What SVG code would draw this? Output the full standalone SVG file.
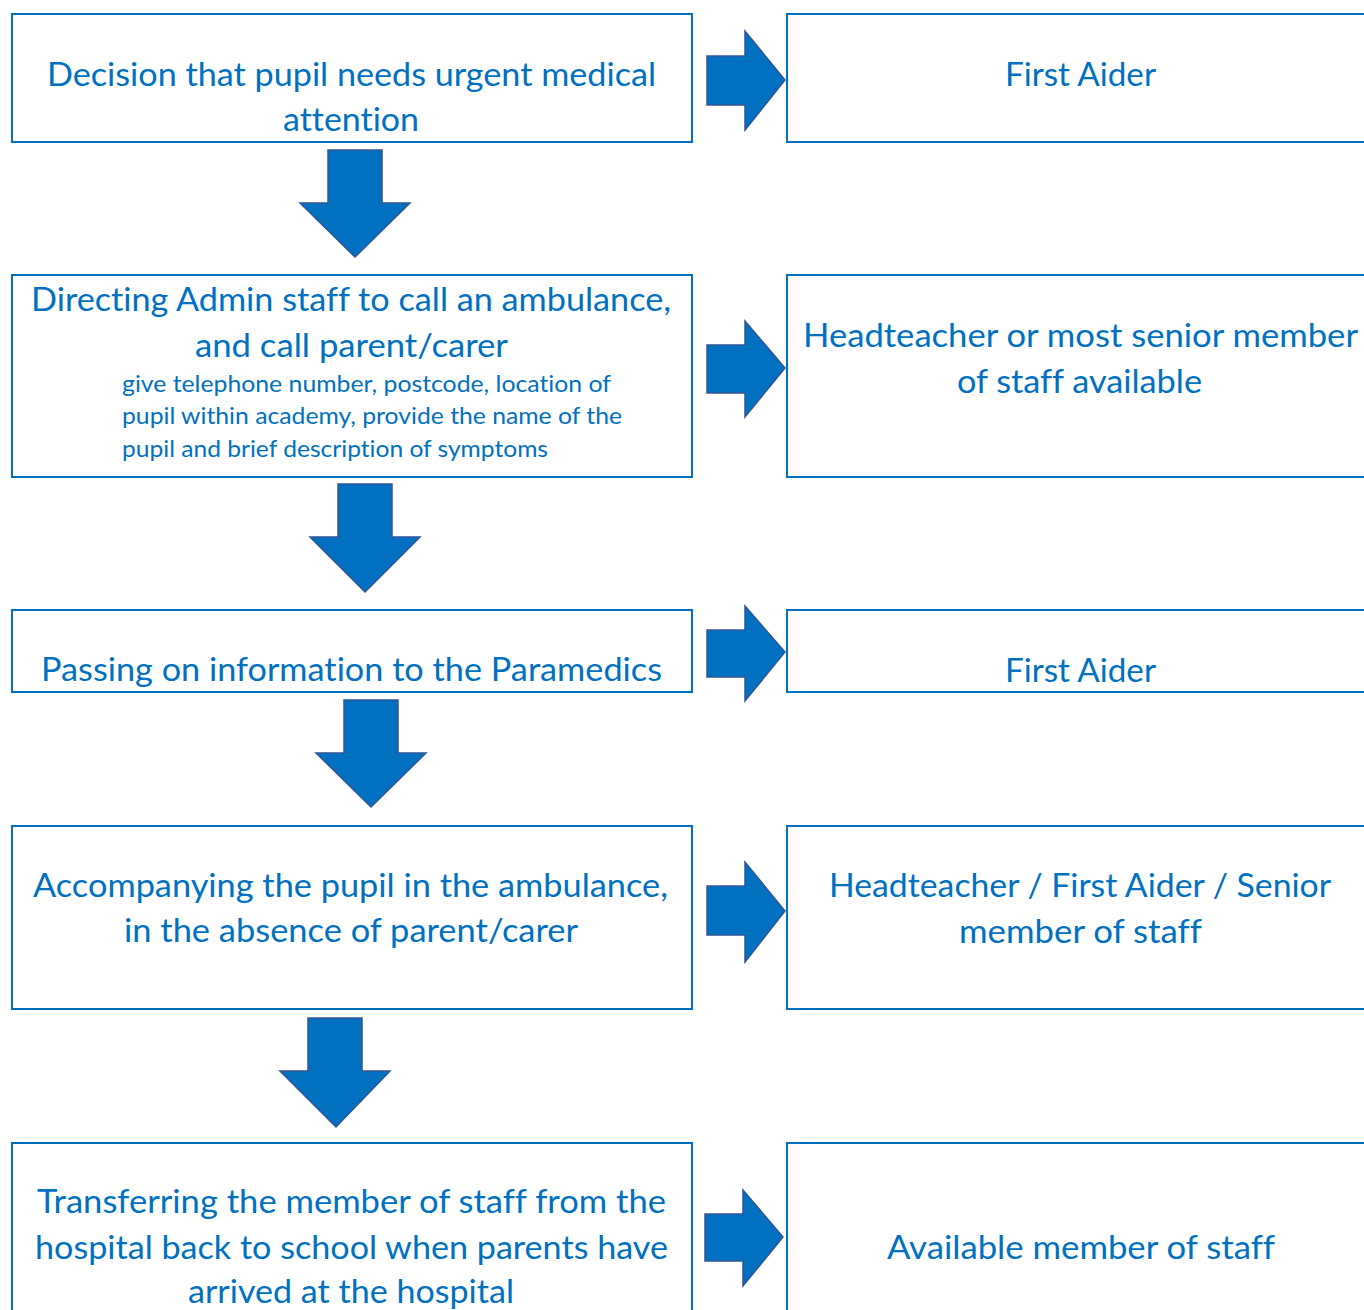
<svg xmlns="http://www.w3.org/2000/svg" width="1364" height="1310" viewBox="0 0 1364 1310">
<style>
.box{fill:#fff;stroke:#0070C0;stroke-width:2}
.arr{fill:#0070C0;stroke:#2F5597;stroke-width:1.5;stroke-linejoin:miter}
text{font-family:Lato,"Liberation Sans",sans-serif;fill:#0070C0;font-variant-ligatures:none}
.t{font-size:32px}
.s{font-size:22.5px}
.r{font-size:32px}
</style>
<rect width="1364" height="1310" fill="#fff"/>
<g id="connectors">
<polygon class="arr" points="328,150 382,150 382,203 410,203 355,257 300,203 328,203"/>
<polygon class="arr" points="338,484 392,484 392,537 420,537 365,592 310,537 338,537"/>
<polygon class="arr" points="344,700 398,700 398,753 426,753 371,807 316,753 344,753"/>
<polygon class="arr" points="308,1018 362,1018 362,1071 390,1071 336,1127 280,1071 308,1071"/>
<polygon class="arr" points="707,56 745,56 745,31 785,80 745,130 745,105 707,105"/>
<polygon class="arr" points="707,345 745,345 745,321 785,368 745,417 745,393 707,393"/>
<polygon class="arr" points="707,630 745,630 745,606 785,652 745,701 745,677 707,677"/>
<polygon class="arr" points="707,886 745,886 745,862 785,911 745,962 745,935 707,935"/>
<polygon class="arr" points="705,1214 743,1214 743,1190 783,1237 743,1286 743,1261 705,1261"/>
</g>
<g id="n1">
<rect class="box" x="12" y="14" width="680" height="128"/>
<text class="t" x="47" y="86" textLength="609" lengthAdjust="spacingAndGlyphs">Decision that pupil needs urgent medical</text>
<text class="t" x="283" y="131" textLength="136" lengthAdjust="spacingAndGlyphs">attention</text>
</g>
<g id="n2">
<rect class="box" x="12" y="275" width="680" height="202"/>
<text class="t" x="31" y="311" textLength="640" lengthAdjust="spacingAndGlyphs">Directing Admin staff to call an ambulance,</text>
<text class="t" x="195" y="357" textLength="313" lengthAdjust="spacingAndGlyphs">and call parent/carer</text>
<text class="s" x="122" y="392" textLength="489" lengthAdjust="spacingAndGlyphs">give telephone number, postcode, location of</text>
<text class="s" x="122" y="424" textLength="500" lengthAdjust="spacingAndGlyphs">pupil within academy, provide the name of the</text>
<text class="s" x="122" y="457" textLength="426" lengthAdjust="spacingAndGlyphs">pupil and brief description of symptoms</text>
</g>
<g id="n3">
<rect class="box" x="12" y="610" width="680" height="82"/>
<text class="t" x="41" y="681" textLength="621" lengthAdjust="spacingAndGlyphs">Passing on information to the Paramedics</text>
</g>
<g id="n4">
<rect class="box" x="12" y="826" width="680" height="183"/>
<text class="t" x="33" y="897" textLength="635" lengthAdjust="spacingAndGlyphs">Accompanying the pupil in the ambulance,</text>
<text class="t" x="124" y="942" textLength="454" lengthAdjust="spacingAndGlyphs">in the absence of parent/carer</text>
</g>
<g id="n5">
<rect class="box" x="12" y="1143" width="680" height="180"/>
<text class="t" x="37" y="1213" textLength="629" lengthAdjust="spacingAndGlyphs">Transferring the member of staff from the</text>
<text class="t" x="35" y="1259" textLength="633" lengthAdjust="spacingAndGlyphs">hospital back to school when parents have</text>
<text class="t" x="188" y="1303" textLength="326" lengthAdjust="spacingAndGlyphs">arrived at the hospital</text>
</g>
<g id="r1">
<rect class="box" x="787" y="14" width="590" height="128"/>
<text class="r" x="1005" y="86" textLength="151" lengthAdjust="spacingAndGlyphs">First Aider</text>
</g>
<g id="r2">
<rect class="box" x="787" y="275" width="590" height="202"/>
<text class="r" x="803" y="347" textLength="555" lengthAdjust="spacingAndGlyphs">Headteacher or most senior member</text>
<text class="r" x="957" y="393" textLength="245" lengthAdjust="spacingAndGlyphs">of staff available</text>
</g>
<g id="r3">
<rect class="box" x="787" y="610" width="590" height="82"/>
<text class="r" x="1005" y="682" textLength="151" lengthAdjust="spacingAndGlyphs">First Aider</text>
</g>
<g id="r4">
<rect class="box" x="787" y="826" width="590" height="183"/>
<text class="r" x="829" y="897" textLength="502" lengthAdjust="spacingAndGlyphs">Headteacher / First Aider / Senior</text>
<text class="r" x="959" y="943" textLength="243" lengthAdjust="spacingAndGlyphs">member of staff</text>
</g>
<g id="r5">
<rect class="box" x="787" y="1143" width="590" height="180"/>
<text class="r" x="887" y="1259" textLength="388" lengthAdjust="spacingAndGlyphs">Available member of staff</text>
</g>
</svg>
